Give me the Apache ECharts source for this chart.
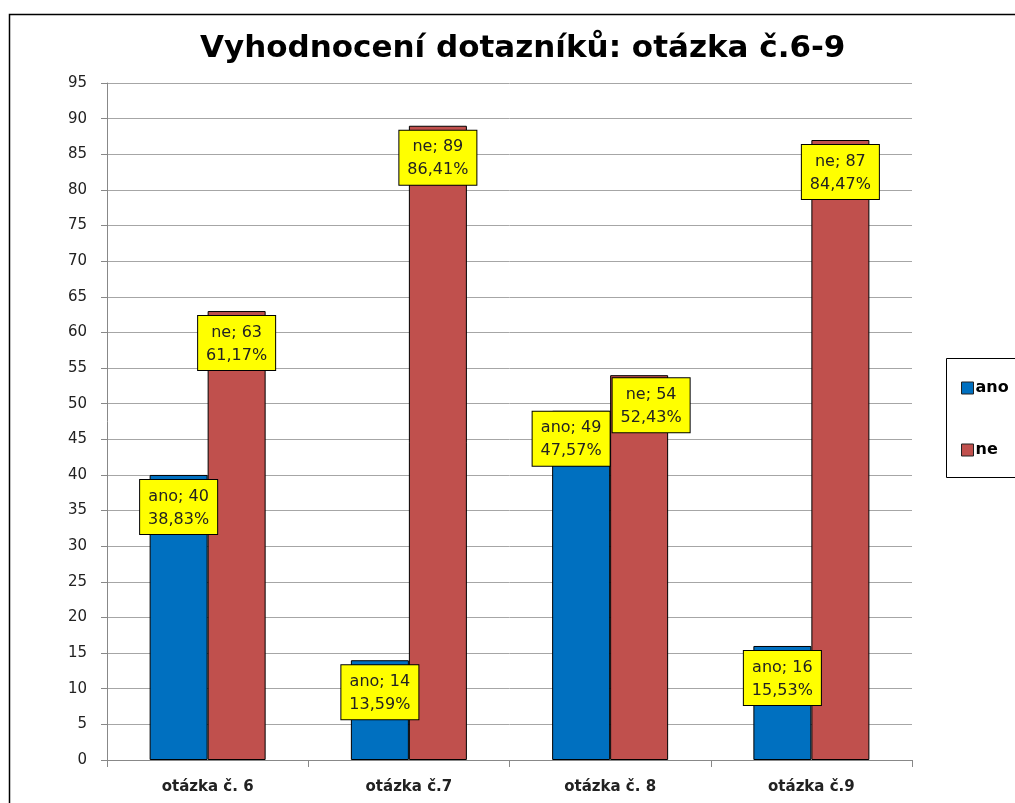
<!DOCTYPE html>
<html><head><meta charset="utf-8">
<script src="https://cdn.jsdelivr.net/npm/echarts@6/dist/echarts.min.js"></script>
<style>html,body{margin:0;padding:0;background:#fff}#c{width:1015px;height:803px}</style>
</head><body><div id="c"></div>
<script>
const categories = ['otázka č. 6', 'otázka č.7', 'otázka č. 8', 'otázka č.9'];
const seriesNames = ['ano', 'ne'];
const anoValues = [40, 14, 49, 16];
const neValues = [63, 89, 54, 87];
const yTicks = {min: 0, max: 95, interval: 5};

function pct(v, i) {
  const t = anoValues[i] + neValues[i];
  return (v / t * 100).toFixed(2).replace('.', ',') + '%';
}
const labelOffsets = { ano: {2: [-10, -4]}, ne: {2: [12, -2]} };

function makeData(name, vals) {
  return vals.map((v, i) => {
    const o = {value: v};
    if (labelOffsets[name][i]) o.label = {offset: labelOffsets[name][i]};
    return o;
  });
}
const baseLabel = {
  show: true, position: 'insideTop', distance: 5,
  backgroundColor: '#FFFF00', borderColor: '#000', borderWidth: 1,
  padding: [5, 8, 3, 8], lineHeight: 23, fontSize: 16,
  fontFamily: 'DejaVu Sans', color: '#222'
};
const chart = echarts.init(document.getElementById('c'), null, {renderer: 'canvas'});
chart.setOption({
  animation: false,
  title: {
    text: 'Vyhodnocení dotazníků: otázka č.6-9', left: 195, top: 28,
    textStyle: {fontFamily: 'DejaVu Sans', fontWeight: 'bold', fontSize: 31, color: '#000'}
  },
  graphic: [
    {type: 'rect', shape: {x: 9.5, y: 14.5, width: 1020, height: 800}, style: {fill: 'none', stroke: '#000', lineWidth: 1.5}, z: 100},
    {type: 'rect', shape: {x: 946.5, y: 358.5, width: 80, height: 119}, style: {fill: '#fff', stroke: '#000', lineWidth: 1}, z: 1}
  ],
  legend: {
    orient: 'vertical', left: 956, top: 375, itemGap: 46, itemWidth: 12, itemHeight: 12,
    icon: 'rect', data: seriesNames, z: 5,
    itemStyle: {borderColor: '#222', borderWidth: 1},
    textStyle: {fontFamily: 'DejaVu Sans', fontWeight: 'bold', fontSize: 16, color: '#000', padding: [0,0,0,-3]}
  },
  grid: {left: 107, right: 103, top: 83, bottom: 43},
  xAxis: {
    type: 'category', data: categories,
    axisLine: {lineStyle: {color: '#888'}},
    axisTick: {show: true, length: 7, lineStyle: {color: '#888'}},
    axisLabel: {fontFamily: 'DejaVu Sans', fontWeight: 'bold', fontSize: 15, color: '#222', margin: 20}
  },
  yAxis: {
    type: 'value', min: yTicks.min, max: yTicks.max, interval: yTicks.interval,
    axisLine: {show: true, lineStyle: {color: '#888'}},
    axisTick: {show: true, length: 6, lineStyle: {color: '#888'}},
    splitLine: {lineStyle: {color: '#A6A6A6'}},
    axisLabel: {fontFamily: 'DejaVu Sans', fontSize: 15, color: '#222', margin: 20}
  },
  series: [
    {name: 'ano', type: 'bar', barWidth: 58, barGap: '0%', data: makeData('ano', anoValues),
     itemStyle: {color: '#0070C0', borderColor: '#000', borderWidth: 1},
     label: Object.assign({}, baseLabel, {formatter: p => 'ano; ' + p.value + '\n' + pct(p.value, p.dataIndex)})},
    {name: 'ne', type: 'bar', barWidth: 58, barGap: '0%', data: makeData('ne', neValues),
     itemStyle: {color: '#C0504D', borderColor: '#000', borderWidth: 1},
     label: Object.assign({}, baseLabel, {formatter: p => 'ne; ' + p.value + '\n' + pct(p.value, p.dataIndex)})}
  ]
});
</script></body></html>
